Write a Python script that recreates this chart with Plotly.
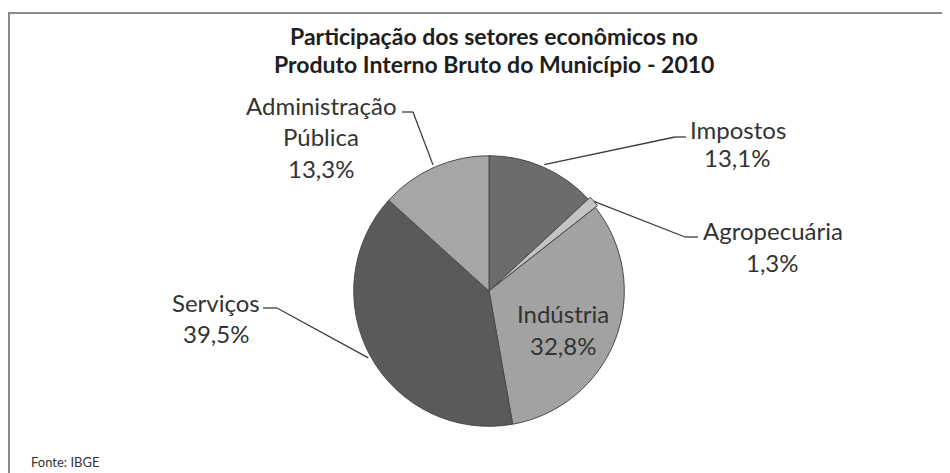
import math
import plotly.graph_objects as go

# ---- data ----
categories = ["Impostos", "Agropecuária", "Indústria", "Serviços", "Administração Pública"]
values = [13.1, 1.3, 32.8, 39.5, 13.3]
colors = ["#6c6c6c", "#c4c4c4", "#a2a2a2", "#5a5a5a", "#a6a6a6"]
title_lines = ["Participação dos setores econômicos no", "Produto Interno Bruto do Município - 2010"]
source_text = "Fonte: IBGE"

# the page body has an 8px margin; figure is sized so it fills the 950x473 window
OFF = 8
W, H = 950 - OFF, 473 - OFF
FONT = "Lato, 'Open Sans', sans-serif"

# pie geometry in window pixels
CX, CY, R = 489, 291, 138


def px(x):
    return (x - OFF) / W


def py(y):
    return 1 - (y - OFF) / H


def pct(v):
    return f"{v:.1f}".replace(".", ",") + "%"


fig = go.Figure(go.Pie(
    labels=categories,
    values=values,
    sort=False,
    direction="clockwise",
    rotation=0,
    marker=dict(colors=colors, line=dict(color="#4a4a4a", width=1)),
    pull=[0, 0.02, 0, 0, 0],
    textinfo="none",
    hoverinfo="label+percent",
    showlegend=False,
    domain=dict(x=[px(CX - R), px(CX + R)], y=[py(CY + R), py(CY - R)]),
))

# label layout (text line positions in px, elbow of leader line)
label_layout = {
    "Impostos": dict(lines=[(688, 129, "left"), (737, 158, "center")], elbow=[(675, 137), (686, 137)]),
    "Agropecuária": dict(lines=[(701, 231, "left"), (772, 262, "center")], elbow=[(685, 237), (698, 237)]),
    "Indústria": dict(lines=[(563, 313, "center"), (563, 345, "center")], elbow=None),
    "Serviços": dict(lines=[(216, 302, "center"), (216, 333, "center")], elbow=[(277, 308), (263, 308)]),
    "Administração Pública": dict(lines=[(321, 105, "center"), (321, 137, "center"), (321, 169, "center")],
                                   elbow=[(413, 112), (402, 112)]),
}

annotations = []
shapes = []
total = sum(values)
cum = 0.0
for cat, v in zip(categories, values):
    mid = (cum + v / 2) / total
    cum += v
    ang = 2 * math.pi * mid
    ex, ey = CX + R * math.sin(ang), CY - R * math.cos(ang)
    lay = label_layout[cat]
    words = cat.split(" ") if cat == "Administração Pública" else [cat]
    texts = words + [pct(v)]
    for (lx, ly, anc), t in zip(lay["lines"], texts):
        annotations.append(dict(x=px(lx), y=py(ly), xref="paper", yref="paper", text=t,
                                showarrow=False, xanchor=anc, yanchor="middle",
                                font=dict(family=FONT, size=24, color="#333333")))
    if lay["elbow"]:
        (x1, y1), (x2, y2) = lay["elbow"]
        for a, b, c, d in [(ex, ey, x1, y1), (x1, y1, x2, y2)]:
            shapes.append(dict(type="line", xref="paper", yref="paper",
                               x0=px(a), y0=py(b), x1=px(c), y1=py(d),
                               line=dict(color="#3c3c3c", width=1.3)))

# title
for i, t in enumerate(title_lines):
    annotations.append(dict(x=px(494), y=py(36 + i * 28), xref="paper", yref="paper", text=f"<b>{t}</b>",
                            showarrow=False, xanchor="center", yanchor="middle",
                            font=dict(family=FONT, size=23, color="#1e1e1e")))
# source
annotations.append(dict(x=px(29), y=py(462), xref="paper", yref="paper", text=source_text,
                        showarrow=False, xanchor="left", yanchor="middle",
                        font=dict(family=FONT, size=13, color="#333333")))

# chart frame
shapes.append(dict(type="rect", xref="paper", yref="paper", x0=px(9), y0=py(490), x1=px(970), y1=py(13),
                   line=dict(color="#8a8a8a", width=2), layer="below"))

fig.update_layout(
    width=W, height=H, autosize=False,
    margin=dict(l=0, r=0, t=0, b=0),
    paper_bgcolor="white", plot_bgcolor="white",
    annotations=annotations, shapes=shapes,
)

fig.write_html("out.html")
